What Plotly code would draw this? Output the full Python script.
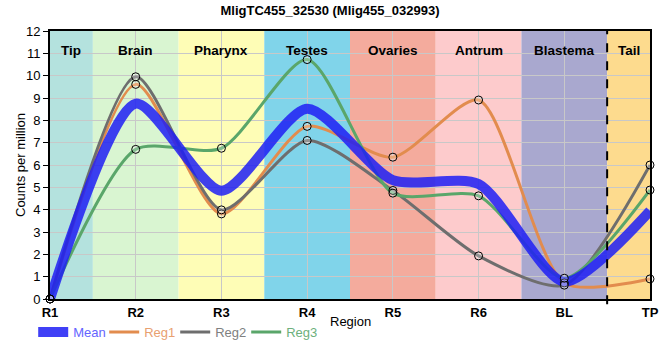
import plotly.graph_objects as go

categories = ["R1", "R2", "R3", "R4", "R5", "R6", "BL", "TP"]
x_pos = [0, 1, 2, 3, 4, 5, 6, 7]
mean_vals = [0.0, 8.75, 4.85, 8.52, 5.32, 5.15, 0.77, 3.95]
reg1_vals = [0.0, 9.61, 3.81, 7.73, 6.35, 8.91, 0.72, 0.90]
reg2_vals = [0.0, 9.95, 3.99, 7.10, 4.86, 1.93, 0.62, 6.00]
reg3_vals = [0.0, 6.70, 6.75, 10.72, 4.74, 4.62, 0.93, 4.88]

region_names = ["Tip", "Brain", "Pharynx", "Testes", "Ovaries", "Antrum", "Blastema", "Tail"]
region_bounds = [(0, 0.5), (0.5, 1.5), (1.5, 2.5), (2.5, 3.5), (3.5, 4.5), (4.5, 5.5), (5.5, 6.5), (6.5, 7)]
region_colors = ["#b4e2de", "#d9f5d1", "#fefdb6", "#80d4ea", "#f4ab9d", "#fdcbcc", "#a9a8cf", "#fddb8e"]

series = [
    ("Reg1", reg1_vals, "#e28c4e", "#e8a070"),
    ("Reg2", reg2_vals, "#6e6e6e", "#808080"),
    ("Reg3", reg3_vals, "#5aa66a", "#6db07c"),
]

SMOOTH = 0.7

fig = go.Figure()

for i, (name, vals, col, tcol) in enumerate(series):
    fig.add_trace(go.Scatter(
        x=x_pos, y=vals, mode="lines",
        line=dict(color=col, width=3, shape="spline", smoothing=SMOOTH),
        name=f'<span style="color:{tcol}">{name}</span>',
        legendrank=2 + i, cliponaxis=False,
    ))

fig.add_trace(go.Scatter(
    x=x_pos, y=mean_vals, mode="lines",
    line=dict(color="rgba(30,30,245,0.85)", width=10, shape="spline", smoothing=SMOOTH),
    name='<span style="color:#6464ff">Mean</span>', legendrank=1, cliponaxis=False,
))

for name, vals, col, tcol in series:
    fig.add_trace(go.Scatter(
        x=x_pos, y=vals, mode="markers", showlegend=False,
        marker=dict(size=8, color="rgba(255,255,255,0.25)", line=dict(color="black", width=1)),
        cliponaxis=False,
    ))

shapes = []
for (a, b), c in zip(region_bounds, region_colors):
    shapes.append(dict(type="rect", xref="x", yref="paper", x0=a, x1=b, y0=0, y1=1,
                       fillcolor=c, line=dict(width=0), layer="below"))
shapes.append(dict(type="line", xref="x", yref="paper", x0=6.5, x1=6.5, y0=-0.02, y1=1,
                   line=dict(color="black", width=2, dash="dash"), layer="above"))

annotations = []
for (a, b), n in zip(region_bounds, region_names):
    annotations.append(dict(x=(a + b) / 2, y=0.963, xref="x", yref="paper", text=f"<b>{n}</b>",
                            showarrow=False, font=dict(size=13.5, color="black")))
annotations.append(dict(x=0.5, y=-0.119, xref="paper", yref="paper", text="Region",
                        showarrow=False, font=dict(size=13, color="black")))
annotations.append(dict(x=-0.05, y=0.5, xref="paper", yref="paper", text="Counts per million",
                        textangle=-90, xanchor="center", yanchor="middle",
                        showarrow=False, font=dict(size=13, color="black")))

fig.update_layout(
    width=660, height=360,
    margin=dict(l=50, r=10, t=31, b=61, autoexpand=False),
    paper_bgcolor="white", plot_bgcolor="white",
    font=dict(family="Liberation Sans, Arial, sans-serif", size=13, color="black"),
    title=dict(text="<b>MligTC455_32530 (Mlig455_032993)</b>", x=0.5, xanchor="center",
               xref="container", yref="container", y=0.972, yanchor="middle", font=dict(size=13)),
    shapes=shapes, annotations=annotations,
    showlegend=True,
    legend=dict(orientation="h", x=-0.028, xanchor="left", y=-0.067, yanchor="top",
                bgcolor="rgba(0,0,0,0)", font=dict(size=13), itemwidth=30,
                entrywidth=26, entrywidthmode="pixels",
                tracegroupgap=0, traceorder="normal"),
    xaxis=dict(range=[0, 7], tickvals=x_pos,
               ticktext=[f"<b>{c}</b>" for c in categories],
               showgrid=True, gridcolor="#c8c8c8", gridwidth=1,
               showline=True, linecolor="black", linewidth=2, mirror=True,
               ticks="", zeroline=False, fixedrange=True, automargin=False),
    yaxis=dict(range=[0, 12], dtick=1, showgrid=True, gridcolor="#c8c8c8", gridwidth=1,
               showline=True, linecolor="black", linewidth=2, mirror=True,
               ticks="outside", ticklen=5, tickcolor="black", zeroline=False, automargin=False,
               fixedrange=True),
)

fig.write_html(
    "out.html",
    config={"displayModeBar": False},
    post_script="document.body.style.margin='0';document.body.style.overflow='hidden';",
)
